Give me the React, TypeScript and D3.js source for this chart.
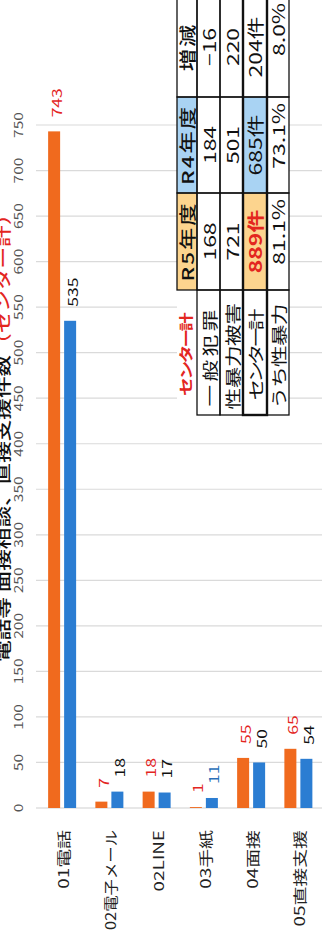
import React from "react";
import * as d3 from "d3";

const categories = ["01電話", "02電子メール", "02LINE", "03手紙", "04面接", "05直接支援"];
const r5Values = [743, 7, 18, 1, 55, 65];
const r4Values = [535, 18, 17, 11, 50, 54];
const valueTicks = [0, 50, 100, 150, 200, 250, 300, 350, 400, 450, 500, 550, 600, 650, 700, 750];

const titleMain = "電話等 面接相談、直接支援件数";
const titleRed = "（センター計）";

const tableHeader = ["センター計", "R5年度", "R4年度", "増減"];
const tableRowLabels = ["一般犯罪", "性暴力被害", "センター計", "うち性暴力"];
const tableR5 = ["168", "721", "889件", "81.1%"];
const tableR4 = ["184", "501", "685件", "73.1%"];
const tableDiff = ["−16", "220", "204件", "8.0%"];

const W = 322;
const H = 936;
const SX = 1.35;
const FONT = "'Noto Sans CJK JP', 'Noto Sans', sans-serif";
const ORANGE = "#f06a1e";
const BLUE = "#2b7dd2";
const RED = "#e3261f";

function RText(props: any) {
  const { x, y, size, fill = "#111", anchor = "middle", weight = 400, ls = 0, baseline = "central", maxLen, children } = props;
  let extra: any = {};
  if (maxLen) {
    const s = String(children);
    let em = 0;
    for (const ch of s) em += ch.charCodeAt(0) < 128 ? 0.56 : 1;
    const est = em * size * SX;
    if (est > maxLen) extra = { textLength: maxLen / SX, lengthAdjust: "spacingAndGlyphs" };
  }
  return (
    <text
      transform={`translate(${x},${y}) rotate(-90) scale(${SX},1)`}
      fontSize={size}
      fill={fill}
      textAnchor={anchor}
      fontWeight={weight}
      letterSpacing={ls}
      dominantBaseline={baseline}
      fontFamily={FONT}
      {...extra}
    >
      {children}
    </text>
  );
}

export default function App() {
  const y = d3.scaleLinear().domain([0, 750]).range([808, 125]);
  const x = d3.scaleBand<string>().domain(categories).range([38.5, 322]);
  const cx = (c: string) => (x(c) as number) + x.bandwidth() / 2;

  const rowEdges = [177, 197, 220, 243, 267, 289];
  const colEdges = [415, 290, 193, 97, -3];
  const rows = [tableHeader, ...tableRowLabels.map((l, i) => [l, tableR5[i], tableR4[i], tableDiff[i]])];
  const fills: Record<string, string> = {
    "0-1": "#fcd48e",
    "0-2": "#a9d3f3",
    "3-1": "#fcd48e",
    "3-2": "#a9d3f3",
  };
  const labelLS = [2.5, -0.3, -3, -0.6];

  const cells: any[] = [];
  rows.forEach((row, r) => {
    row.forEach((txt, c) => {
      const x0 = rowEdges[r];
      const x1 = rowEdges[r + 1];
      const yTop = colEdges[c + 1];
      const yBot = colEdges[c];
      cells.push({ r, c, txt, x0, x1, yTop, yBot });
    });
  });

  return (
    <svg width={W} height={H} style={{ position: "absolute", left: 0, top: 0, background: "#fff" }}>
      <rect x={0} y={0} width={W} height={H} fill="#fff" />
      {/* title */}
      <text
        transform={`translate(9,662) rotate(-90) scale(${SX},1)`}
        fontSize={16}
        fontWeight={500}
        fontFamily={FONT}
        fill="#111"
      >
        {titleMain}
        <tspan fill={RED}>{titleRed}</tspan>
      </text>
      {/* grid */}
      {valueTicks.map((t) => (
        <line key={"g" + t} x1={36} x2={W} y1={y(t)} y2={y(t)} stroke={t === 0 ? "#cfcfcf" : "#dadada"} strokeWidth={1.2} />
      ))}
      {valueTicks.map((t) => (
        <RText key={"t" + t} x={23} y={y(t)} size={11.5} fill="#555" baseline="auto">
          {t}
        </RText>
      ))}
      {/* bars */}
      {categories.map((c, i) => (
        <g key={c}>
          <rect x={cx(c) - 14} y={y(r5Values[i])} width={12} height={y(0) - y(r5Values[i])} fill={ORANGE} />
          <rect x={cx(c) + 2} y={y(r4Values[i])} width={12} height={y(0) - y(r4Values[i])} fill={BLUE} />
          <RText x={cx(c) - 6.5} y={y(r5Values[i]) - 14} size={13} fill={RED} anchor="start">
            {r5Values[i]}
          </RText>
          <RText x={cx(c) + 9.5} y={y(r4Values[i]) - 14} size={13} fill={i === 3 ? "#2a6fb8" : "#111"} anchor="start">
            {r4Values[i]}
          </RText>
          <RText x={cx(c) + 1} y={830} size={14} fill="#222" anchor="end" maxLen={100}>
            {c}
          </RText>
        </g>
      ))}
      {/* table */}
      <rect x={177} y={-3} width={112} height={418} fill="#fff" />
      {cells.map((k) => {
        const f = fills[`${k.r}-${k.c}`];
        return f ? <rect key={"f" + k.r + k.c} x={k.x0} y={k.yTop} width={k.x1 - k.x0} height={k.yBot - k.yTop} fill={f} /> : null;
      })}
      {cells.map((k) =>
        k.r === 0 && k.c === 0 ? null : (
          <rect
            key={"b" + k.r + k.c}
            x={k.x0}
            y={k.yTop}
            width={k.x1 - k.x0}
            height={k.yBot - k.yTop}
            fill="none"
            stroke="#111"
            strokeWidth={1.3}
          />
        )
      )}
      <rect x={rowEdges[3]} y={colEdges[4]} width={rowEdges[4] - rowEdges[3]} height={colEdges[0] - colEdges[4]} fill="none" stroke="#111" strokeWidth={2.4} />
      {cells.map((k) => {
        const xc = (k.x0 + k.x1) / 2;
        const yc = (k.yTop + k.yBot) / 2;
        if (k.r === 0) {
          if (k.c === 0)
            return (
              <RText key={"t" + k.r + k.c} x={xc - 2} y={yc + 3} size={14} fill={RED} weight={700} ls={-2}>
                {k.txt}
              </RText>
            );
          return (
            <RText key={"t" + k.r + k.c} x={xc} y={yc} size={16.5} weight={500} ls={1.5}>
              {k.txt}
            </RText>
          );
        }
        if (k.c === 0)
          return (
            <RText key={"t" + k.r + k.c} x={xc} y={yc + 4} size={16} ls={labelLS[k.r - 1]}>
              {k.txt}
            </RText>
          );
        const isRed = k.r === 3 && k.c === 1;
        if (k.r === 4)
          return (
            <RText key={"t" + k.r + k.c} x={xc} y={k.yTop + 6} size={17} anchor="end">
              {k.txt}
            </RText>
          );
        return (
          <RText key={"t" + k.r + k.c} x={xc} y={yc} size={17} fill={isRed ? RED : "#111"} weight={isRed ? 700 : 400}>
            {k.txt}
          </RText>
        );
      })}
    </svg>
  );
}
